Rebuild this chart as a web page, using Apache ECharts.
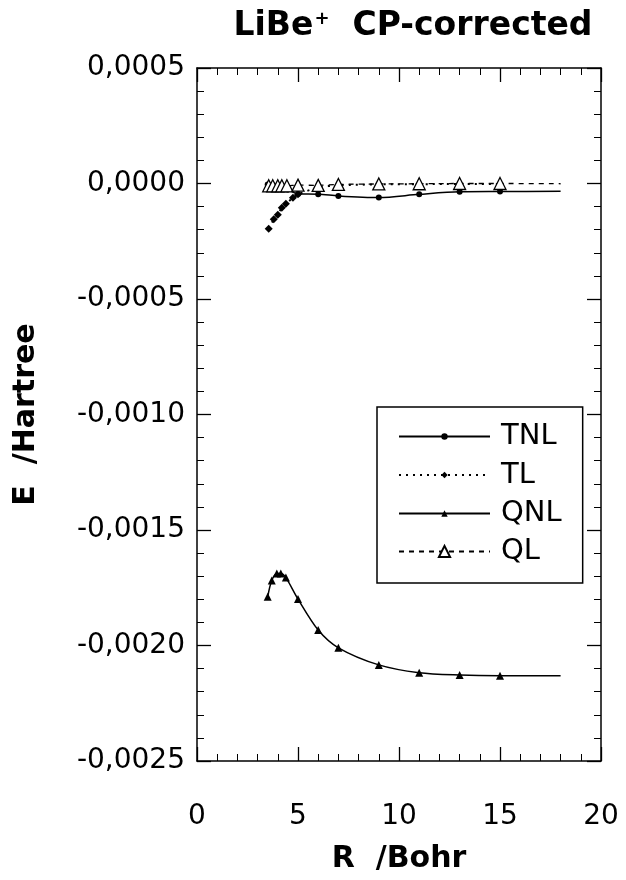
<!DOCTYPE html>
<html>
<head>
<meta charset="utf-8">
<script src="https://cdn.jsdelivr.net/npm/echarts@6/dist/echarts.min.js"></script>
<style>
html,body{margin:0;padding:0;background:#fff;}
#chart{width:626px;height:880px;}
</style>
</head>
<body>
<div id="chart"></div>
<script>
// ---- data ----
var xTicks = [0, 5, 10, 15, 20];
var yTicks = [0.0005, 0.0000, -0.0005, -0.0010, -0.0015, -0.0020, -0.0025];

var tnlR = [3.5, 3.75, 4.0, 4.25, 4.5, 5, 6, 7, 9, 11, 13, 15, 18];
var tnlE = [-0.000004, -0.000007, -0.000011, -0.000017, -0.000026, -0.000045, -0.000046, -0.000054, -0.000061, -0.000047, -0.000036, -0.000035, -0.000034];

var tlR = [3.55, 3.8, 4.0, 4.2, 4.4, 4.75, 5, 6, 7, 9, 11, 13, 15];
var tlE = [-0.000196, -0.000155, -0.000135, -0.000105, -0.000088, -0.000062, -0.000047, -0.000018, -0.000008, -0.000004, -0.000003, -0.000002, -0.000002];

var qnlR = [3.5, 3.7, 3.95, 4.15, 4.4, 5, 6, 7, 9, 11, 13, 15, 18];
var qnlE = [-0.001789, -0.001719, -0.001688, -0.001688, -0.001706, -0.001799, -0.001933, -0.002010, -0.002084, -0.002118, -0.002128, -0.002131, -0.002131];

var qlR = [3.55, 3.75, 4.0, 4.2, 4.45, 5, 6, 7, 9, 11, 13, 15, 18];
var qlE = [-0.000010, -0.000010, -0.000010, -0.000010, -0.000010, -0.000007, -0.000008, -0.000004, -0.000002, -0.000001, 0.000000, 0.000000, -0.000001];

var lastMeasuredR = 15; // beyond this the curves continue without markers

function pts(rs, es) {
  return rs.map(function (r, i) {
    var p = { value: [r, es[i]] };
    if (r > lastMeasuredR) p.symbol = 'none';
    return p;
  });
}

var FONT = 'DejaVu Sans';
var chart = echarts.init(document.getElementById('chart'), null, { renderer: 'canvas' });

var axisLine = { show: true, onZero: false, lineStyle: { color: '#000', width: 1.5 } };
var tick = { show: true, inside: true, length: 14, lineStyle: { color: '#000', width: 1.3 } };
var minor = { show: true, splitNumber: 5, length: 7, lineStyle: { color: '#000', width: 1 } };

var option = {
  backgroundColor: '#fff',
  animation: false,
  title: {
    text: 'LiBe{sup|+}  CP-corrected',
    left: 408, textAlign: 'center', top: 5,
    textStyle: {
      fontFamily: FONT, fontWeight: 'bold', fontSize: 33, color: '#000',
      rich: { sup: { fontFamily: FONT, fontWeight: 'bold', fontSize: 18, color: '#000', verticalAlign: 'top', padding: [0, 0, 14, 1] } }
    }
  },
  grid: { left: 197, right: 25, top: 68, bottom: 119, containLabel: false },
  xAxis: [{
    type: 'value', min: xTicks[0], max: xTicks[xTicks.length - 1], interval: xTicks[1] - xTicks[0],
    position: 'bottom',
    axisLine: axisLine, axisTick: tick, minorTick: minor,
    splitLine: { show: false },
    axisLabel: { margin: 42, fontFamily: FONT, fontSize: 28, color: '#000' },
    name: 'R  /Bohr', nameLocation: 'middle', nameGap: 83,
    nameTextStyle: { fontFamily: FONT, fontWeight: 'bold', fontSize: 30, color: '#000' }
  }, {
    type: 'value', min: xTicks[0], max: xTicks[xTicks.length - 1], interval: xTicks[1] - xTicks[0],
    position: 'top',
    axisLine: axisLine, axisTick: tick, minorTick: minor,
    splitLine: { show: false }, axisLabel: { show: false }
  }],
  yAxis: [{
    type: 'value', min: yTicks[yTicks.length - 1], max: yTicks[0], interval: yTicks[0] - yTicks[1],
    position: 'left',
    axisLine: axisLine, axisTick: tick, minorTick: minor,
    splitLine: { show: false },
    axisLabel: {
      margin: 12, fontFamily: FONT, fontSize: 28, color: '#000',
      formatter: function (v) { var s = Math.abs(v) < 1e-12 ? '0.0000' : v.toFixed(4); return s.replace('.', ','); }
    },
    name: 'E  /Hartree', nameLocation: 'middle', nameGap: 156, nameRotate: 90,
    nameTextStyle: { fontFamily: FONT, fontWeight: 'bold', fontSize: 30, color: '#000' }
  }, {
    type: 'value', min: yTicks[yTicks.length - 1], max: yTicks[0], interval: yTicks[0] - yTicks[1],
    position: 'right',
    axisLine: axisLine, axisTick: tick, minorTick: minor,
    splitLine: { show: false }, axisLabel: { show: false }
  }],
  legend: [{
    orient: 'vertical', left: 377, top: 407,
    data: ['TNL', 'TL', 'QNL'],
    itemWidth: 91, itemHeight: 8, itemGap: 9.5,
    padding: [15, 21, 55, 21],
    borderColor: '#000', borderWidth: 1.5, backgroundColor: '#fff',
    selectedMode: false,
    textStyle: { fontFamily: FONT, fontSize: 29, color: '#000', padding: [0, 0, 0, 6] }
  }, {
    orient: 'vertical', left: 377, top: 537,
    data: ['QL'],
    itemWidth: 91, itemHeight: 14, itemGap: 0,
    padding: [0, 21, 0, 21],
    selectedMode: false,
    textStyle: { fontFamily: FONT, fontSize: 29, color: '#000', padding: [0, 0, 0, 6] }
  }],
  series: [{
    name: 'TNL', type: 'line', xAxisIndex: 0, yAxisIndex: 0,
    data: pts(tnlR, tnlE), smooth: 0.3,
    symbol: 'circle', symbolSize: 6,
    itemStyle: { color: '#000' },
    lineStyle: { color: '#000', width: 1.5, type: 'solid' }
  }, {
    name: 'TL', type: 'line', xAxisIndex: 0, yAxisIndex: 0,
    data: pts(tlR, tlE), smooth: 0.3,
    symbol: 'diamond', symbolSize: 8,
    itemStyle: { color: '#000' },
    lineStyle: { color: '#000', width: 2, type: [2, 5] }
  }, {
    name: 'QNL', type: 'line', xAxisIndex: 0, yAxisIndex: 0,
    data: pts(qnlR, qnlE), smooth: 0.3,
    symbol: 'triangle', symbolSize: 8,
    itemStyle: { color: '#000' },
    lineStyle: { color: '#000', width: 1.5, type: 'solid' }
  }, {
    name: 'QL', type: 'line', xAxisIndex: 0, yAxisIndex: 0,
    data: pts(qlR, qlE), smooth: 0.3,
    symbol: 'triangle', symbolSize: 12,
    itemStyle: { color: '#fff', borderColor: '#000', borderWidth: 1.3 },
    lineStyle: { color: '#000', width: 1.3, type: [5, 5] }
  }]
};
chart.setOption(option);
</script>
</body>
</html>
